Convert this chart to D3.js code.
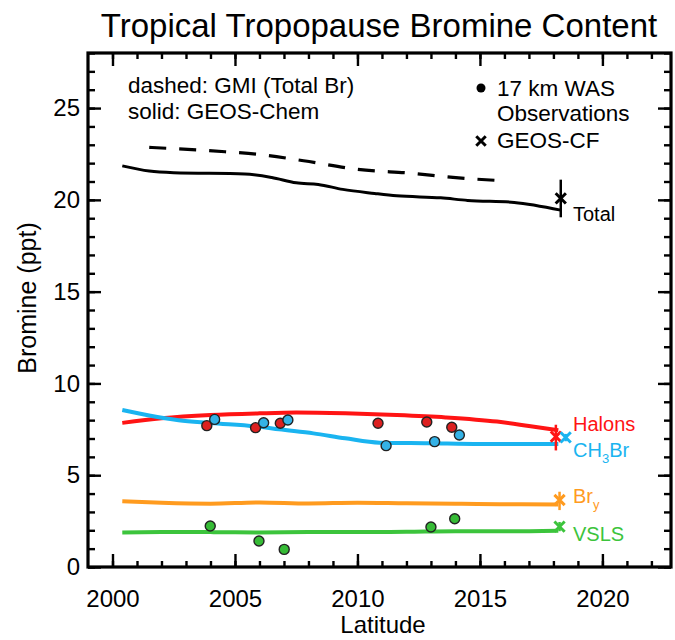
<!DOCTYPE html>
<html lang="en">
<head>
<meta charset="UTF-8">
<script src="https://d3js.org/d3.v7.min.js"></script>
<style>
  body { margin: 0; background: #fff; }
  svg { display: block; font-family: "Liberation Sans", Arial, sans-serif; }
</style>
</head>
<body>
<script>
// ---- data ----
const xTicksMajor = [2000, 2005, 2010, 2015, 2020];
const yTicksMajor = [0, 5, 10, 15, 20, 25];

// GEOS-Chem (solid) total bromine
const totalYears = [2000.4, 2001.5, 2002.5, 2005.4, 2006.5, 2007.5, 2008.4, 2009.4, 2010.7, 2011.6, 2013.4, 2014.5, 2016.4, 2018.3];
const totalVals  = [21.85, 21.57, 21.48, 21.41, 21.22, 20.93, 20.84, 20.57, 20.35, 20.22, 20.11, 19.97, 19.86, 19.44];

// GMI (dashed) total bromine
const gmiYears = [2001.5, 2004.6, 2005.9, 2007.8, 2010.0, 2012.3, 2013.9, 2016.0];
const gmiVals  = [22.86, 22.62, 22.49, 22.13, 21.66, 21.44, 21.22, 21.04];

const halonYears = [2000.4, 2002, 2004, 2006, 2007.5, 2009.5, 2011.6, 2013.6, 2015.7, 2017, 2018.2];
const halonVals  = [7.85, 8.1, 8.28, 8.37, 8.41, 8.37, 8.28, 8.15, 7.92, 7.68, 7.45];

const ch3brYears = [2000.4, 2001.5, 2002.7, 2004, 2006, 2006.8, 2008.2, 2009.5, 2010.9, 2012.9, 2015, 2018.2];
const ch3brVals  = [8.55, 8.25, 8.0, 7.85, 7.64, 7.5, 7.28, 7.01, 6.77, 6.74, 6.7, 6.7];

const bryYears = [2000.4, 2002, 2004, 2006, 2008, 2010, 2012, 2014, 2016, 2018.2];
const bryVals  = [3.58, 3.5, 3.45, 3.52, 3.46, 3.5, 3.47, 3.45, 3.42, 3.4];

const vslsYears = [2000.4, 2002, 2004, 2006, 2008, 2010, 2012, 2014, 2016, 2018.2];
const vslsVals  = [1.88, 1.9, 1.9, 1.88, 1.9, 1.9, 1.92, 1.95, 1.95, 1.98];

// 17 km WAS observations
const halonObsYears = [2003.85, 2005.84, 2006.85, 2010.84, 2012.83, 2013.85];
const halonObs      = [7.70, 7.59, 7.83, 7.83, 7.90, 7.61];
const ch3brObsYears = [2004.17, 2006.17, 2007.16, 2011.17, 2013.15, 2014.16];
const ch3brObs      = [8.04, 7.86, 8.01, 6.61, 6.83, 7.19];
const vslsObsYears  = [2003.99, 2005.98, 2007.01, 2013.0, 2013.97];
const vslsObs       = [2.23, 1.42, 0.96, 2.18, 2.63];

// GEOS-CF with spread
const cfNames = ["Total", "Halons", "CH3Br", "Bry", "VSLS"];
const cfYears = [2018.3, 2018.1, 2018.5, 2018.25, 2018.25];
const cfVals  = [20.08, 7.1, 7.06, 3.65, 2.2];
const cfLow   = [19.05, 6.35, 6.85, 3.1, 1.95];
const cfHigh  = [21.1, 7.75, 7.25, 4.1, 2.45];

const colors = { Total: "#000", Halons: "#ff1414", CH3Br: "#1ab4f0", Bry: "#ff9b1f", VSLS: "#3cc43c" };
const dotFill = { Halons: "#dc2020", CH3Br: "#34b2e6", VSLS: "#36bb36" };

// ---- layout ----
const width = 675, height = 640;
const mLeft = 88, mRight = 671, mTop = 53, mBottom = 567;

const svg = d3.select("body").append("svg")
  .attr("width", width)
  .attr("height", height);

const x = d3.scaleLinear().domain([1999, 2022.8]).range([mLeft, mRight]);
const y = d3.scaleLinear().domain([0, 28]).range([mBottom, mTop]);

// title
svg.append("text")
  .attr("x", 379).attr("y", 37)
  .attr("text-anchor", "middle")
  .style("font-size", "33px")
  .text("Tropical Tropopause Bromine Content");

// axes: major + minor ticks pointing inward on all four sides
const minorX = d3.range(2000, 2023);
const minorY = d3.range(0, 29);

function styleAxis(g) {
  g.select(".domain").remove();
  g.selectAll(".tick line").attr("stroke", "#000").attr("stroke-width", 2.4);
  g.selectAll(".tick text").style("font-size", "24px").attr("fill", "#000");
}

svg.append("g").attr("transform", `translate(0,${mBottom})`)
  .call(d3.axisBottom(x).tickValues(minorX).tickSize(-6).tickFormat(""))
  .call(styleAxis);
svg.append("g").attr("transform", `translate(0,${mBottom})`)
  .call(d3.axisBottom(x).tickValues(xTicksMajor).tickSize(-13).tickPadding(23).tickFormat(d3.format("d")))
  .call(styleAxis);
svg.append("g").attr("transform", `translate(0,${mTop})`)
  .call(d3.axisTop(x).tickValues(minorX).tickSize(-6).tickFormat(""))
  .call(styleAxis);
svg.append("g").attr("transform", `translate(0,${mTop})`)
  .call(d3.axisTop(x).tickValues(xTicksMajor).tickSize(-13).tickFormat(""))
  .call(styleAxis);

svg.append("g").attr("transform", `translate(${mLeft},0)`)
  .call(d3.axisLeft(y).tickValues(minorY).tickSize(-7).tickFormat(""))
  .call(styleAxis);
svg.append("g").attr("transform", `translate(${mLeft},0)`)
  .call(d3.axisLeft(y).tickValues(yTicksMajor).tickSize(-13).tickPadding(8).tickFormat(d3.format("d")))
  .call(styleAxis);
svg.append("g").attr("transform", `translate(${mRight},0)`)
  .call(d3.axisRight(y).tickValues(minorY).tickSize(-7).tickFormat(""))
  .call(styleAxis);
svg.append("g").attr("transform", `translate(${mRight},0)`)
  .call(d3.axisRight(y).tickValues(yTicksMajor).tickSize(-13).tickFormat(""))
  .call(styleAxis);

// frame
svg.append("rect")
  .attr("x", mLeft).attr("y", mTop)
  .attr("width", mRight - mLeft).attr("height", mBottom - mTop)
  .attr("fill", "none").attr("stroke", "#000").attr("stroke-width", 3.2);

// axis titles
svg.append("text")
  .attr("x", 383).attr("y", 633)
  .attr("text-anchor", "middle")
  .style("font-size", "24px")
  .text("Latitude");
svg.append("text")
  .attr("transform", "translate(36,298) rotate(-90)")
  .attr("text-anchor", "middle")
  .style("font-size", "25px")
  .text("Bromine (ppt)");

// model lines
const line = d3.line().x(d => x(d[0])).y(d => y(d[1])).curve(d3.curveMonotoneX);
const zip = (a, b) => a.map((v, i) => [v, b[i]]);

function drawLine(xs, vs, color, w, dash) {
  svg.append("path")
    .datum(zip(xs, vs))
    .attr("d", line)
    .attr("fill", "none")
    .attr("stroke", color)
    .attr("stroke-width", w)
    .attr("stroke-dasharray", dash || null)
    .attr("stroke-linejoin", "round");
}

drawLine(gmiYears, gmiVals, "#000", 3.2, "17,13");
drawLine(totalYears, totalVals, "#000", 3);
drawLine(halonYears, halonVals, colors.Halons, 4);
drawLine(ch3brYears, ch3brVals, colors.CH3Br, 4);
drawLine(bryYears, bryVals, colors.Bry, 4);
drawLine(vslsYears, vslsVals, colors.VSLS, 4);

// observations
function drawDots(xs, vs, fill) {
  svg.append("g").selectAll("circle")
    .data(zip(xs, vs))
    .join("circle")
    .attr("cx", d => x(d[0]))
    .attr("cy", d => y(d[1]))
    .attr("r", 5)
    .attr("fill", fill)
    .attr("stroke", "#222")
    .attr("stroke-width", 1.4);
}
drawDots(halonObsYears, halonObs, dotFill.Halons);
drawDots(ch3brObsYears, ch3brObs, dotFill.CH3Br);
drawDots(vslsObsYears, vslsObs, dotFill.VSLS);

// GEOS-CF crosses with spread bars
const cross = d3.symbol().type(d3.symbolX).size(70);
cfNames.forEach((n, i) => {
  svg.append("line")
    .attr("x1", x(cfYears[i])).attr("x2", x(cfYears[i]))
    .attr("y1", y(cfLow[i])).attr("y2", y(cfHigh[i]))
    .attr("stroke", colors[n]).attr("stroke-width", 2.5);
  svg.append("path")
    .attr("d", cross)
    .attr("transform", `translate(${x(cfYears[i])},${y(cfVals[i])})`)
    .attr("fill", "none")
    .attr("stroke", colors[n]).attr("stroke-width", 3);
});

// series labels
const labelX = 573;
const labs = [
  { t: "Total", v: 19.25, c: colors.Total },
  { t: "Halons", v: 7.8, c: colors.Halons },
  { t: "CH", sub: "3", rest: "Br", v: 6.35, c: colors.CH3Br },
  { t: "Br", sub: "y", v: 3.85, c: colors.Bry },
  { t: "VSLS", v: 1.8, c: colors.VSLS }
];
labs.forEach(l => {
  const tx = svg.append("text")
    .attr("x", labelX).attr("y", y(l.v) + 7)
    .attr("fill", l.c)
    .style("font-size", "20px")
    .text(l.t);
  if (l.sub) {
    tx.append("tspan").attr("dy", 6).style("font-size", "13px").text(l.sub);
    if (l.rest) tx.append("tspan").attr("dy", -6).text(l.rest);
  }
});

// legend text
svg.append("text").attr("x", 128).attr("y", 93).style("font-size", "22.5px").text("dashed: GMI (Total Br)");
svg.append("text").attr("x", 128).attr("y", 119).style("font-size", "22.5px").text("solid: GEOS-Chem");

svg.append("circle").attr("cx", 481).attr("cy", 88).attr("r", 4.5).attr("fill", "#000");
svg.append("text").attr("x", 497).attr("y", 96).style("font-size", "22.5px").text("17 km WAS");
svg.append("text").attr("x", 497).attr("y", 121).style("font-size", "22.5px").text("Observations");
svg.append("path").attr("d", d3.symbol().type(d3.symbolX).size(60))
  .attr("transform", "translate(481,141)")
  .attr("fill", "none").attr("stroke", "#000").attr("stroke-width", 3);
svg.append("text").attr("x", 497).attr("y", 148).style("font-size", "22.5px").text("GEOS-CF");
</script>
</body>
</html>
